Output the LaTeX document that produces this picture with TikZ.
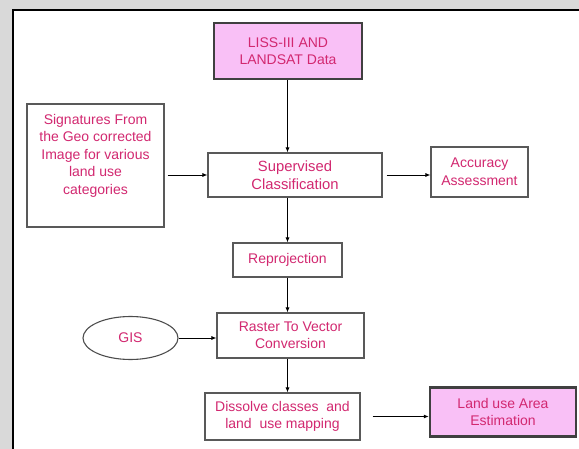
\documentclass[tikz,border=0pt]{standalone}
\usepackage{fontspec}
\setmainfont{Liberation Sans}
\usepackage{xcolor}
\usetikzlibrary{positioning, calc, arrows.meta, shapes.geometric}
\definecolor{txtpink}{RGB}{210,40,112}
\definecolor{boxpink}{RGB}{249,192,246}
\definecolor{framegray}{RGB}{217,217,217}

\begin{document}
\begin{tikzpicture}[x=1pt, y=-1pt,
	stepbox/.style={draw=black!65, line width=1.1pt, fill=white, text=txtpink, align=center, font=\fontsize{14}{17.5}\selectfont, inner sep=0pt},
	databox/.style={stepbox, draw=black!75, line width=2.4pt, fill=boxpink},
	steptext/.style={text=txtpink, align=center, font=\fontsize{14}{17.5}\selectfont, inner sep=0pt},
	flow/.style={-{Latex[length=5pt,width=4pt]}, line width=0.8pt}]
	\useasboundingbox (0,0) rectangle (579,449);
	\clip (0,0) rectangle (579,449);
	\fill[framegray] (-5,-5) rectangle (590,460);
	\fill[white] (12,9) rectangle (590,460);
	\draw[line width=2pt] (13,460) -- (13,10) -- (590,10);

	\node[databox, minimum width=148pt, minimum height=56pt] (liss) at (288,51) {LISS-III AND\\LANDSAT Data};
	\node[stepbox, minimum width=137pt, minimum height=123pt] (sig) at (95.5,165.5) {};
	\node[steptext, below=10.5pt of sig.north] (sigtext) {Signatures From\\the Geo corrected\\Image for various\\land use\\categories};
	\node[stepbox, minimum width=174pt, minimum height=44pt, font=\fontsize{14.8}{17.5}\selectfont] (sup) at (295,175) {Supervised\\Classification};
	\node[stepbox, minimum width=97pt, minimum height=50pt] (acc) at (479.5,172) {Accuracy\\Assessment};
	\node[stepbox, minimum width=109pt, minimum height=34pt] (repro) at (287.5,260) {Reprojection};
	\node[stepbox, minimum width=147pt, minimum height=45pt] (raster) at (290.5,335.5) {Raster To Vector\\Conversion};
	\node[stepbox, ellipse, draw=black!70, minimum width=95pt, minimum height=43pt] (gis) at (130.5,338) {GIS};
	\node[stepbox, minimum width=155pt, minimum height=47pt] (dis) at (282.5,416.5) {Dissolve classes\ \ and\\land\ \ use mapping};
	\node[databox, minimum width=146pt, minimum height=49pt] (land) at (503,412) {Land use Area\\Estimation};

	\foreach \a/\b in {liss/sup, sup/repro, repro/raster, raster/dis}
	{
		\draw[flow] (\a.south -| repro) -- (repro |- \b.north);
	}
	\draw[flow, shorten <=3pt] (sup.west -| sig.east) -- (sup.west);
	\draw[flow, shorten <=4pt] (sup.east) -- (sup.east -| acc.west);
	\draw[flow] (gis.east) -- (gis.east -| raster.west);
	\draw[flow, shorten <=12pt] (dis.east) -- (dis.east -| land.west);
\end{tikzpicture}
\end{document}
